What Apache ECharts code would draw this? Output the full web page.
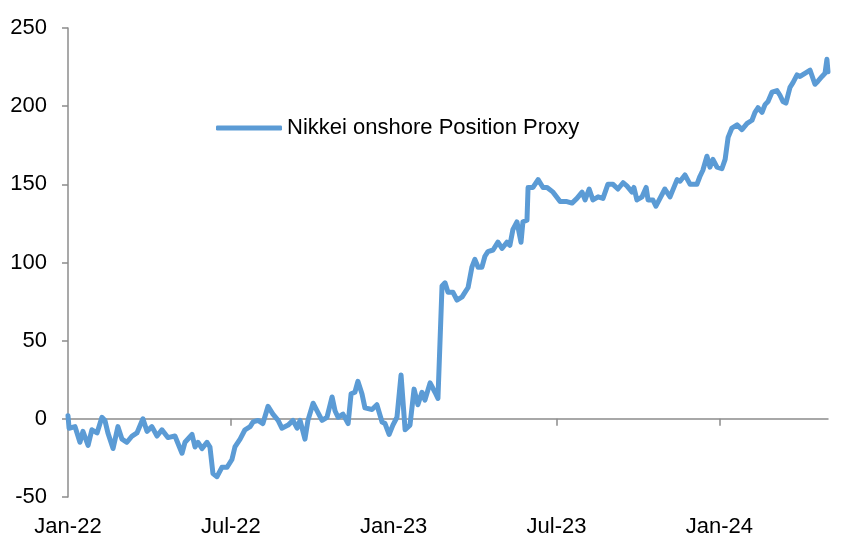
<!DOCTYPE html>
<html>
<head>
<meta charset="utf-8">
<script src="https://cdn.jsdelivr.net/npm/echarts@6/dist/echarts.min.js"></script>
<style>
  html, body { margin: 0; padding: 0; background: #fff; }
  #chart { width: 852px; height: 552px; }
</style>
</head>
<body>
<div id="chart"></div>
<script>
// x position of each observation, in months since Jan-22
const monthsSinceJan22 = [0.00,0.04,0.26,0.44,0.55,0.74,0.88,1.07,1.25,1.36,
  1.47,1.66,1.84,1.99,2.17,2.36,2.54,2.76,2.91,3.09,
  3.28,3.46,3.68,3.94,4.20,4.31,4.57,4.68,4.79,4.94,
  5.12,5.23,5.34,5.49,5.67,5.86,6.04,6.15,6.34,6.52,
  6.71,6.82,7.00,7.18,7.37,7.55,7.74,7.88,8.11,8.29,
  8.44,8.55,8.73,8.84,9.03,9.21,9.36,9.54,9.73,9.84,
  9.95,10.13,10.32,10.43,10.57,10.68,10.83,10.94,11.20,11.38,
  11.57,11.68,11.83,11.97,12.12,12.27,12.42,12.60,12.75,12.89,
  13.04,13.15,13.34,13.52,13.63,13.78,13.89,14.00,14.18,14.33,
  14.52,14.63,14.74,14.88,14.99,15.11,15.25,15.36,15.47,15.66,
  15.84,15.99,16.17,16.28,16.39,16.54,16.69,16.76,16.91,16.95,
  17.13,17.32,17.50,17.65,17.87,18.13,18.38,18.57,18.75,18.94,
  19.05,19.20,19.34,19.53,19.71,19.89,20.08,20.26,20.45,20.59,
  20.78,20.85,20.96,21.15,21.30,21.37,21.55,21.66,21.81,21.99,
  22.18,22.44,22.55,22.73,22.92,23.17,23.28,23.39,23.54,23.65,
  23.76,23.91,24.09,24.21,24.32,24.46,24.65,24.83,25.02,25.20,
  25.31,25.42,25.57,25.68,25.79,25.94,26.12,26.23,26.34,26.45,
  26.60,26.71,26.86,26.97,27.15,27.34,27.52,27.63,27.78,27.89,
  27.96,28.00];

const positionProxy = [2,-6,-5,-15,-8,-17,-7,-9,1,-1,
  -9,-19,-5,-13,-15,-11,-9,0,-8,-5,
  -11,-7,-12,-11,-22,-15,-10,-18,-15,-19,
  -15,-18,-35,-37,-31,-31,-26,-18,-13,-7,
  -5,-2,-1,-3,8,3,-1,-6,-4,-1,
  -6,-1,-13,-1,10,4,-1,1,14,5,
  1,3,-3,16,17,24,16,7,6,9,
  -2,-3,-10,-4,1,28,-7,-4,19,9,
  17,12,23,17,13,85,87,81,81,76,
  78,81,84,97,102,97,97,104,107,108,
  113,109,113,111,121,126,113,126,127,148,
  148,153,148,148,145,139,139,138,141,145,
  140,147,140,142,141,150,150,147,151,149,
  145,148,140,142,148,140,140,136,141,147,
  142,153,152,156,150,150,155,159,168,161,
  166,161,160,166,180,186,188,185,189,191,
  196,199,196,201,203,209,210,207,203,202,
  212,215,220,219,221,223,214,216,219,221,
  230,222];

const seriesName = 'Nikkei onshore Position Proxy';
const xTickValues = [0, 6, 12, 18, 24];
const xTickLabels = ['Jan-22', 'Jul-22', 'Jan-23', 'Jul-23', 'Jan-24'];

const FONT = "'Liberation Sans', Arial, sans-serif";
const AXIS_GRAY = '#8c8c8c';
const LINE_BLUE = '#5b9bd5';

const lineData = monthsSinceJan22.map((m, i) => [m, positionProxy[i]]);

const chart = echarts.init(document.getElementById('chart'), null, { renderer: 'canvas' });
chart.setOption({
  animation: false,
  backgroundColor: '#ffffff',
  textStyle: { fontFamily: FONT },
  grid: { left: 68, right: 24, top: 28, bottom: 55, containLabel: false },
  legend: {
    left: 211,
    top: 112,
    itemWidth: 66,
    itemHeight: 5,
    itemGap: 10,
    data: [{ name: seriesName, icon: 'roundRect' }],
    itemStyle: { color: LINE_BLUE, borderWidth: 0 },
    textStyle: { fontFamily: FONT, fontSize: 22, color: '#000' }
  },
  xAxis: [
    {
      type: 'value',
      min: 0,
      max: 28,
      position: 'bottom',
      axisLine: { show: false, onZero: false },
      axisTick: { show: false },
      splitLine: { show: false },
      axisLabel: {
        customValues: xTickValues,
        margin: 19,
        fontFamily: FONT,
        fontSize: 22,
        color: '#000',
        formatter: (v) => {
          const idx = xTickValues.indexOf(Math.round(v));
          return idx >= 0 ? xTickLabels[idx] : '';
        }
      }
    },
    {
      type: 'value',
      min: 0,
      max: 28,
      position: 'bottom',
      axisLine: { show: true, onZero: true, lineStyle: { color: AXIS_GRAY, width: 1.5 } },
      axisTick: { show: true, customValues: xTickValues, length: 7, lineStyle: { color: AXIS_GRAY, width: 1.5 } },
      axisLabel: { show: false },
      splitLine: { show: false }
    }
  ],
  yAxis: {
    type: 'value',
    min: -50,
    max: 250,
    interval: 50,
    axisLine: { show: true, lineStyle: { color: AXIS_GRAY, width: 1.5 } },
    axisTick: { show: true, length: 6, lineStyle: { color: AXIS_GRAY, width: 1.5 } },
    splitLine: { show: false },
    axisLabel: {
      margin: 21,
      fontFamily: FONT,
      fontSize: 22,
      color: '#000'
    }
  },
  series: [
    {
      name: seriesName,
      type: 'line',
      xAxisIndex: 0,
      data: lineData,
      showSymbol: false,
      symbol: 'none',
      lineStyle: { color: LINE_BLUE, width: 5, join: 'round', cap: 'round' },
      itemStyle: { color: LINE_BLUE }
    }
  ]
});
</script>
</body>
</html>
